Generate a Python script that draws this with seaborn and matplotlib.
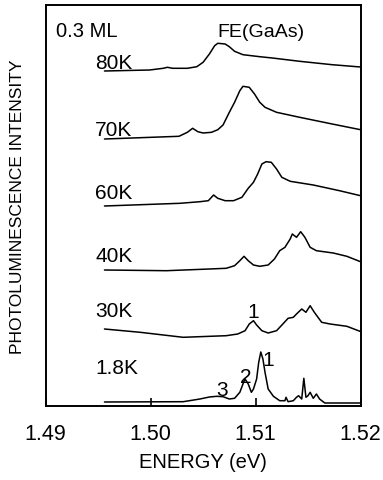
import matplotlib
matplotlib.use("Agg")
import matplotlib.pyplot as plt
import pandas as pd
import seaborn as sns

# Photoluminescence spectra of a 0.3 ML sample at several temperatures.
# Intensities are in arbitrary units relative to each trace's own baseline;
# the traces are stacked with the vertical offsets below.
temperatures = ["80K", "70K", "60K", "40K", "30K", "1.8K"]
offsets = [335, 267, 200, 136, 77, 4]
label_heights = [338, 271, 208, 145, 90, 33]

energy_80K = [1.4956, 1.4999, 1.5012, 1.5016, 1.5021, 1.5035, 1.5044, 1.5050, 1.5056,
              1.5061, 1.5064, 1.5071, 1.5075, 1.5080, 1.5088, 1.5104, 1.5116, 1.5142,
              1.5173, 1.5200]
pl_80K = [0, 1, 2.7, 3.7, 2.7, 2.7, 4.3, 8.7, 17, 25.3, 27.7, 27, 24.3, 19.7, 16.3, 14.3,
          13, 9.7, 6.3, 4]

energy_70K = [1.4956, 1.5027, 1.5035, 1.5040, 1.5045, 1.5050, 1.5058, 1.5064, 1.5069,
              1.5075, 1.5080, 1.5085, 1.5088, 1.5094, 1.5099, 1.5104, 1.5109, 1.5120,
              1.5142, 1.5173, 1.5200]
pl_70K = [0, 2.7, 6.7, 10.7, 7.3, 6, 6.7, 9.3, 14, 26.7, 36.7, 48.3, 52.7, 51.7, 45, 36.7,
          31.7, 26.7, 21.7, 15, 9.3]

energy_60K = [1.4956, 1.5028, 1.5047, 1.5055, 1.5060, 1.5064, 1.5071, 1.5079, 1.5087,
              1.5093, 1.5098, 1.5102, 1.5106, 1.5110, 1.5115, 1.5120, 1.5125, 1.5133,
              1.5155, 1.5180, 1.5200]
pl_60K = [0, 2.7, 4.3, 5.3, 11, 7.7, 5.3, 5.3, 8.7, 17.7, 23.7, 32, 42, 44.3, 43.7, 37,
          28.7, 24.7, 21, 15.3, 10.3]

energy_40K = [1.4956, 1.5015, 1.5056, 1.5072, 1.5080, 1.5085, 1.5089, 1.5093, 1.5098,
              1.5104, 1.5112, 1.5118, 1.5123, 1.5128, 1.5133, 1.5135, 1.5139, 1.5143,
              1.5147, 1.5152, 1.5158, 1.5174, 1.5187, 1.5200]
pl_40K = [0, -0.7, 1, 1.7, 4.3, 9.3, 13.7, 9.3, 5, 3.7, 5, 11, 19.3, 22.7, 31, 36, 32.7,
          38.3, 32.7, 22.7, 19.3, 17, 13.7, 8.3]

energy_30K = [1.4956, 1.4990, 1.5031, 1.5072, 1.5083, 1.5090, 1.5094, 1.5098, 1.5101,
              1.5106, 1.5112, 1.5120, 1.5126, 1.5131, 1.5136, 1.5139, 1.5144, 1.5148,
              1.5152, 1.5156, 1.5163, 1.5171, 1.5187, 1.5200]
pl_30K = [0, -3.3, -8.3, -6.7, -5, -1.7, 5, 8.3, 4, -1.7, -4, -1.7, 5, 10.7, 11.7, 15, 20,
          16.7, 23.3, 16.7, 6.7, 5, 2.7, -2.5]

energy_1p8K = [1.4956, 1.5031, 1.5047, 1.5056, 1.5063, 1.5069, 1.5075, 1.5080, 1.5085,
               1.5088, 1.5090, 1.5093, 1.5096, 1.5098, 1.5101, 1.5103, 1.5105, 1.5107,
               1.5109, 1.5112, 1.5117, 1.5123, 1.5128, 1.5129, 1.5131, 1.5136, 1.5139,
               1.5141, 1.5144, 1.5146, 1.5148, 1.5150, 1.5152, 1.5155, 1.5158, 1.5161,
               1.5166, 1.5200]
pl_1p8K = [0, 0.3, 3, 5, 5.7, 5.3, 3, 3.7, 9.7, 18, 23, 18, 9.7, 13, 23, 39.7, 50, 43,
           29.7, 13, 5.7, 1.3, 1.3, 4.7, 0.3, 1.3, 4.7, 6.3, 3, 23.7, 4.7, 6.3, 9.7, 3.7,
           8, 3, -1, -1]

energies = [energy_80K, energy_70K, energy_60K, energy_40K, energy_30K, energy_1p8K]
intensities = [pl_80K, pl_70K, pl_60K, pl_40K, pl_30K, pl_1p8K]

# Peak markers: text, energy (eV), height on the stacked scale
peak_labels = ["1", "1", "2", "3"]
peak_energy = [1.5098, 1.5112, 1.5091, 1.5068]
peak_height = [89, 41, 24, 11]

xtick_values = [1.49, 1.50, 1.51, 1.52]
xtick_labels = ["1.49", "1.50", "1.51", "1.52"]

rows = []
for temp, off, e_vals, i_vals in zip(temperatures, offsets, energies, intensities):
    for e, i in zip(e_vals, i_vals):
        rows.append({"temperature": temp, "energy": e, "intensity": off + i})
df = pd.DataFrame(rows)

sns.set_theme(style="white")
plt.rcParams["font.family"] = ["Liberation Sans", "DejaVu Sans"]

fig = plt.figure(figsize=(3.83, 4.81), dpi=100)
ax = fig.add_axes([45.7 / 383, 74 / 481, (360.5 - 45.7) / 383, 401 / 481])

sns.lineplot(data=df, x="energy", y="intensity", units="temperature", estimator=None,
             sort=False, color="black", linewidth=1.1, ax=ax)

ax.set_xlim(1.49, 1.52)
ax.set_ylim(0, 401)

for spine in ax.spines.values():
    spine.set_visible(True)
    spine.set_color("black")
    spine.set_linewidth(1.4)

ax.set_xticks(xtick_values)
ax.set_xticklabels(xtick_labels)
ax.tick_params(axis="x", direction="in", length=6, width=1.2, pad=12, labelsize=15.5,
               bottom=True, top=False, colors="black")
ax.set_yticks([])

ax.set_xlabel("ENERGY (eV)", fontsize=14.5, labelpad=6, color="black")
ax.set_ylabel("PHOTOLUMINESCENCE INTENSITY", fontsize=12.5, color="black")
ax.yaxis.set_label_coords(-0.065, 0.5)

# Temperature labels sit just above the start of each trace
for temp, h in zip(temperatures, label_heights):
    ax.text(1.4947, h, temp, fontsize=15, ha="left", va="baseline", color="black")

for txt, e, h in zip(peak_labels, peak_energy, peak_height):
    ax.text(e, h, txt, fontsize=15, ha="center", va="baseline", color="black")

ax.text(1.4910, 370, "0.3 ML", fontsize=14.5, ha="left", va="baseline", color="black")
ax.text(1.5105, 370, "FE(GaAs)", fontsize=14, ha="center", va="baseline", color="black")

fig.savefig("out.png", dpi=100)
